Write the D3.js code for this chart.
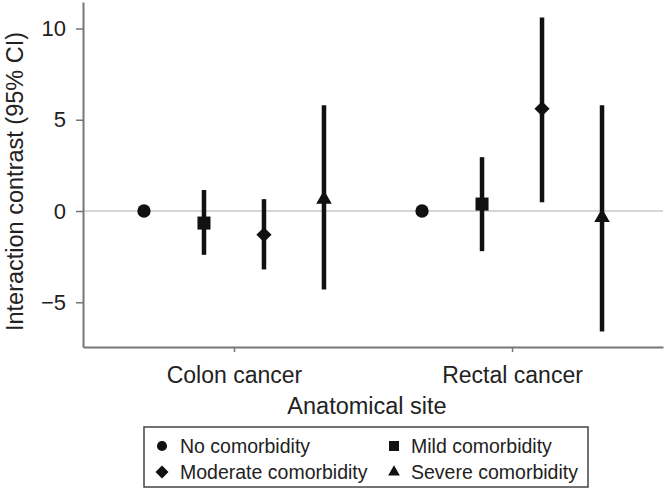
<!DOCTYPE html>
<html>
<head>
<meta charset="utf-8">
<script src="https://cdn.jsdelivr.net/npm/d3@7"></script>
<style>
  body { margin: 0; background: #fff; }
  text { font-family: "Liberation Sans", Arial, sans-serif; fill: #222; }
</style>
</head>
<body>
<div id="chart"></div>
<script>
// data
var sites = ["Colon cancer", "Rectal cancer"];
var groups = ["No comorbidity", "Mild comorbidity", "Moderate comorbidity", "Severe comorbidity"];
var colonEst = [0, -0.66, -1.3, 0.65];
var colonLow = [null, -2.4, -3.2, -4.3];
var colonHigh = [null, 1.15, 0.65, 5.8];
var rectalEst = [0, 0.38, 5.6, -0.35];
var rectalLow = [null, -2.2, 0.48, -6.6];
var rectalHigh = [null, 2.95, 10.6, 5.8];
var yTicks = [-5, 0, 5, 10];

var width = 666, height = 489;
var margin = {left: 83, right: 3, top: 2, bottom: 142};

var svg = d3.select("#chart").append("svg")
    .attr("width", width)
    .attr("height", height);

var x = d3.scalePoint()
    .domain(sites)
    .range([margin.left, width - margin.right])
    .padding(0.543);

var xInner = d3.scalePoint()
    .domain(groups)
    .range([-90, 90]);

var y = d3.scaleLinear()
    .domain([-7.45, 11.45])
    .range([height - margin.bottom, margin.top]);

var shapes = {
    "No comorbidity": {type: d3.symbolCircle, size: 140, legendSize: 80, rot: 0},
    "Mild comorbidity": {type: d3.symbolSquare, size: 170, legendSize: 100, rot: 0},
    "Moderate comorbidity": {type: d3.symbolSquare, size: 115, legendSize: 85, rot: 45},
    "Severe comorbidity": {type: d3.symbolTriangle, size: 105, legendSize: 60, rot: 0}
};

// rows for drawing
var rows = [];
sites.forEach(function(s, si){
    var est = si == 0 ? colonEst : rectalEst;
    var lo = si == 0 ? colonLow : rectalLow;
    var hi = si == 0 ? colonHigh : rectalHigh;
    groups.forEach(function(g, gi){
        rows.push({site: s, group: g, est: est[gi], lo: lo[gi], hi: hi[gi]});
    });
});

// zero reference line
svg.append("line")
    .attr("x1", margin.left)
    .attr("x2", width - margin.right)
    .attr("y1", y(0))
    .attr("y2", y(0))
    .attr("stroke", "#c8c8c8")
    .attr("stroke-width", 1.5);

// axes
var yAxis = svg.append("g")
    .attr("transform", `translate(${margin.left},0)`)
    .call(d3.axisLeft(y).tickValues(yTicks).tickSize(7).tickSizeOuter(0).tickPadding(10).tickFormat(d => d < 0 ? "\u2212" + Math.abs(d) : d));

var xAxis = svg.append("g")
    .attr("transform", `translate(0,${height - margin.bottom})`)
    .call(d3.axisBottom(x).tickSize(5).tickSizeOuter(0).tickPadding(10));

[yAxis, xAxis].forEach(function(a){
    a.select(".domain").attr("stroke", "#777").attr("stroke-width", 2);
    a.selectAll(".tick line").attr("stroke", "#777").attr("stroke-width", 1.5);
    a.selectAll(".tick text")
        .attr("font-family", "Liberation Sans, Arial, sans-serif")
        .attr("font-size", 22)
        .attr("fill", "#222");
});
xAxis.selectAll(".tick text").attr("font-size", 23).attr("dy", "0.9em");

// error bars
svg.append("g")
    .selectAll("line")
    .data(rows.filter(d => d.lo != null))
    .join("line")
    .attr("x1", d => x(d.site) + xInner(d.group))
    .attr("x2", d => x(d.site) + xInner(d.group))
    .attr("y1", d => y(d.lo))
    .attr("y2", d => y(d.hi))
    .attr("stroke", "#111")
    .attr("stroke-width", 4.5);

// point estimates
svg.append("g")
    .selectAll("path")
    .data(rows)
    .join("path")
    .attr("d", d => d3.symbol(shapes[d.group].type, shapes[d.group].size)())
    .attr("transform", d => `translate(${x(d.site) + xInner(d.group)},${y(d.est)}) rotate(${shapes[d.group].rot})`)
    .attr("fill", "#111");

// axis titles
svg.append("text")
    .attr("x", 367)
    .attr("y", 414)
    .attr("text-anchor", "middle")
    .attr("font-size", 23.5)
    .text("Anatomical site");

svg.append("text")
    .attr("transform", `translate(23,${(margin.top + height - margin.bottom) / 2 + 7}) rotate(-90)`)
    .attr("text-anchor", "middle")
    .attr("font-size", 23.5)
    .text("Interaction contrast (95% CI)");

// legend
var legend = svg.append("g");
legend.append("rect")
    .attr("x", 144)
    .attr("y", 427)
    .attr("width", 444)
    .attr("height", 60)
    .attr("fill", "none")
    .attr("stroke", "#444")
    .attr("stroke-width", 1.5);

var legendPos = [
    {sx: 162, tx: 180, y: 446},
    {sx: 394, tx: 411, y: 446},
    {sx: 162, tx: 180, y: 472},
    {sx: 394, tx: 411, y: 472}
];

var items = legend.selectAll("g.item")
    .data(groups)
    .join("g")
    .attr("class", "item")
    .attr("transform", (d, i) => `translate(0,${legendPos[i].y})`);

items.append("path")
    .attr("d", d => d3.symbol(shapes[d].type, shapes[d].legendSize)())
    .attr("transform", (d, i) => `translate(${legendPos[i].sx},0) rotate(${shapes[d].rot})`)
    .attr("fill", "#111");

items.append("text")
    .attr("x", (d, i) => legendPos[i].tx)
    .attr("y", 7)
    .attr("font-size", 19.5)
    .text(d => d);
</script>
</body>
</html>
